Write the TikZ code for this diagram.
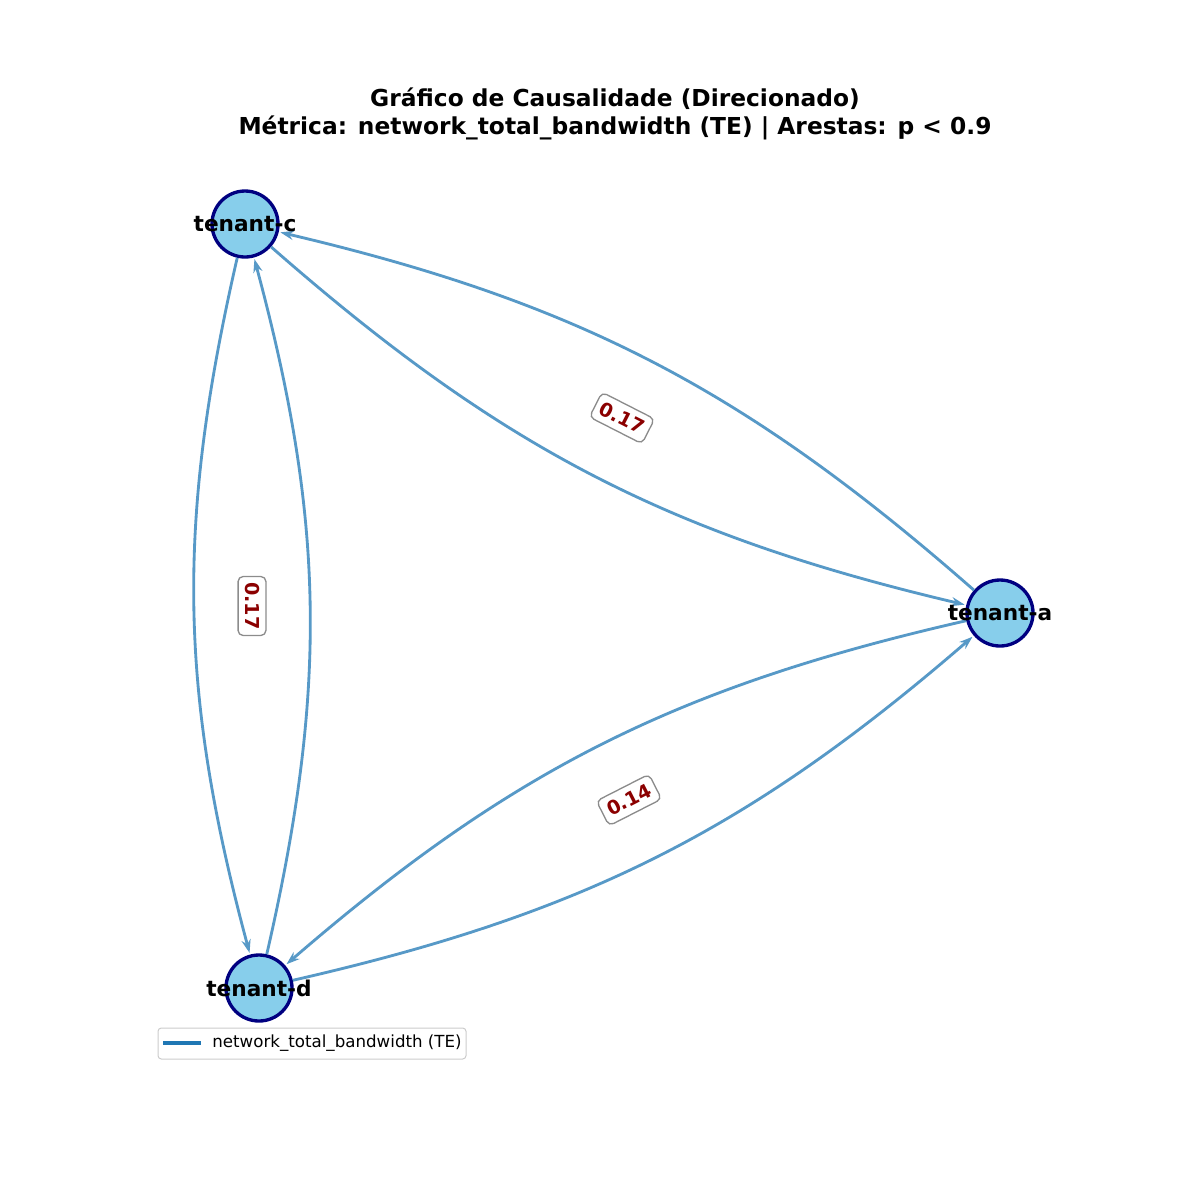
\documentclass[tikz,border=0pt]{standalone}
\usepackage{fontspec}
\setmainfont{DejaVu Sans}
\usetikzlibrary{arrows.meta}
\definecolor{nodefill}{HTML}{87CEEB}
\definecolor{nodeedge}{HTML}{000080}
\definecolor{edgecol}{HTML}{5799C7}
\definecolor{lblred}{HTML}{8B0000}
\definecolor{legline}{HTML}{1F77B4}
\tikzset{
  tnode/.style={circle, fill=nodefill, draw=nodeedge, line width=2pt, minimum size=66*0.6pt, inner sep=0pt},
  tlabel/.style={font=\bfseries\fontsize{13}{15}\selectfont, text=black},
  edgeline/.style={draw=edgecol, line width=1.7pt, -{Stealth[length=8pt,width=5.5pt]}, shorten >=1pt},
  elabel/.style={fill=white, draw=gray!90, rounded corners=3pt, line width=0.8pt, text=lblred, font=\bfseries\fontsize{11.5}{13}\selectfont, inner xsep=3.5pt, inner ysep=4pt}
}
\begin{document}
\begin{tikzpicture}[x=0.6pt,y=-0.6pt]
\useasboundingbox (0,0) rectangle (1200,1200);
% title
\node[font=\bfseries\fontsize{14}{17}\selectfont, align=center] (title) at (615,114) {Gráfico de Causalidade (Direcionado)\\Métrica: network\_total\_bandwidth (TE) | Arestas: p < 0.9};
% nodes
\node[tnode] (c) at (245,224) {};
\node[tnode] (a) at (1000,613) {};
\node[tnode] (d) at (259,988) {};
% edges
\draw[edgeline] (c) to[bend right=14] (a);
\draw[edgeline] (a) to[bend right=14] (c);
\draw[edgeline] (c) to[bend right=14] (d);
\draw[edgeline] (d) to[bend right=14] (c);
\draw[edgeline] (a) to[bend right=14] (d);
\draw[edgeline] (d) to[bend right=14] (a);
% node labels
\node[tlabel] (lc) at (c) {tenant-c};
\node[tlabel] (la) at (a) {tenant-a};
\node[tlabel] (ld) at (d) {tenant-d};
% edge labels
\node[elabel, rotate=-27] (eca) at (622,418) {0.17};
\node[elabel, rotate=-90] (ecd) at (252,606) {0.17};
\node[elabel, rotate=27] (ead) at (629,800) {0.14};
% legend
\node[draw=black!20, fill=white, rounded corners=2pt, line width=0.6pt, minimum width=308*0.6pt, minimum height=31*0.6pt, inner sep=0pt] (leg) at (312,1043.5) {};
\coordinate (l1) at (163,1043);
\coordinate (l2) at (201,1043);
\draw[legline, line width=2.4pt] (l1) -- (l2);
\node[anchor=west, font=\fontsize{10}{12}\selectfont, inner sep=0pt] (legtext) at (212,1043) {network\_total\_bandwidth (TE)};
\end{tikzpicture}
\end{document}
